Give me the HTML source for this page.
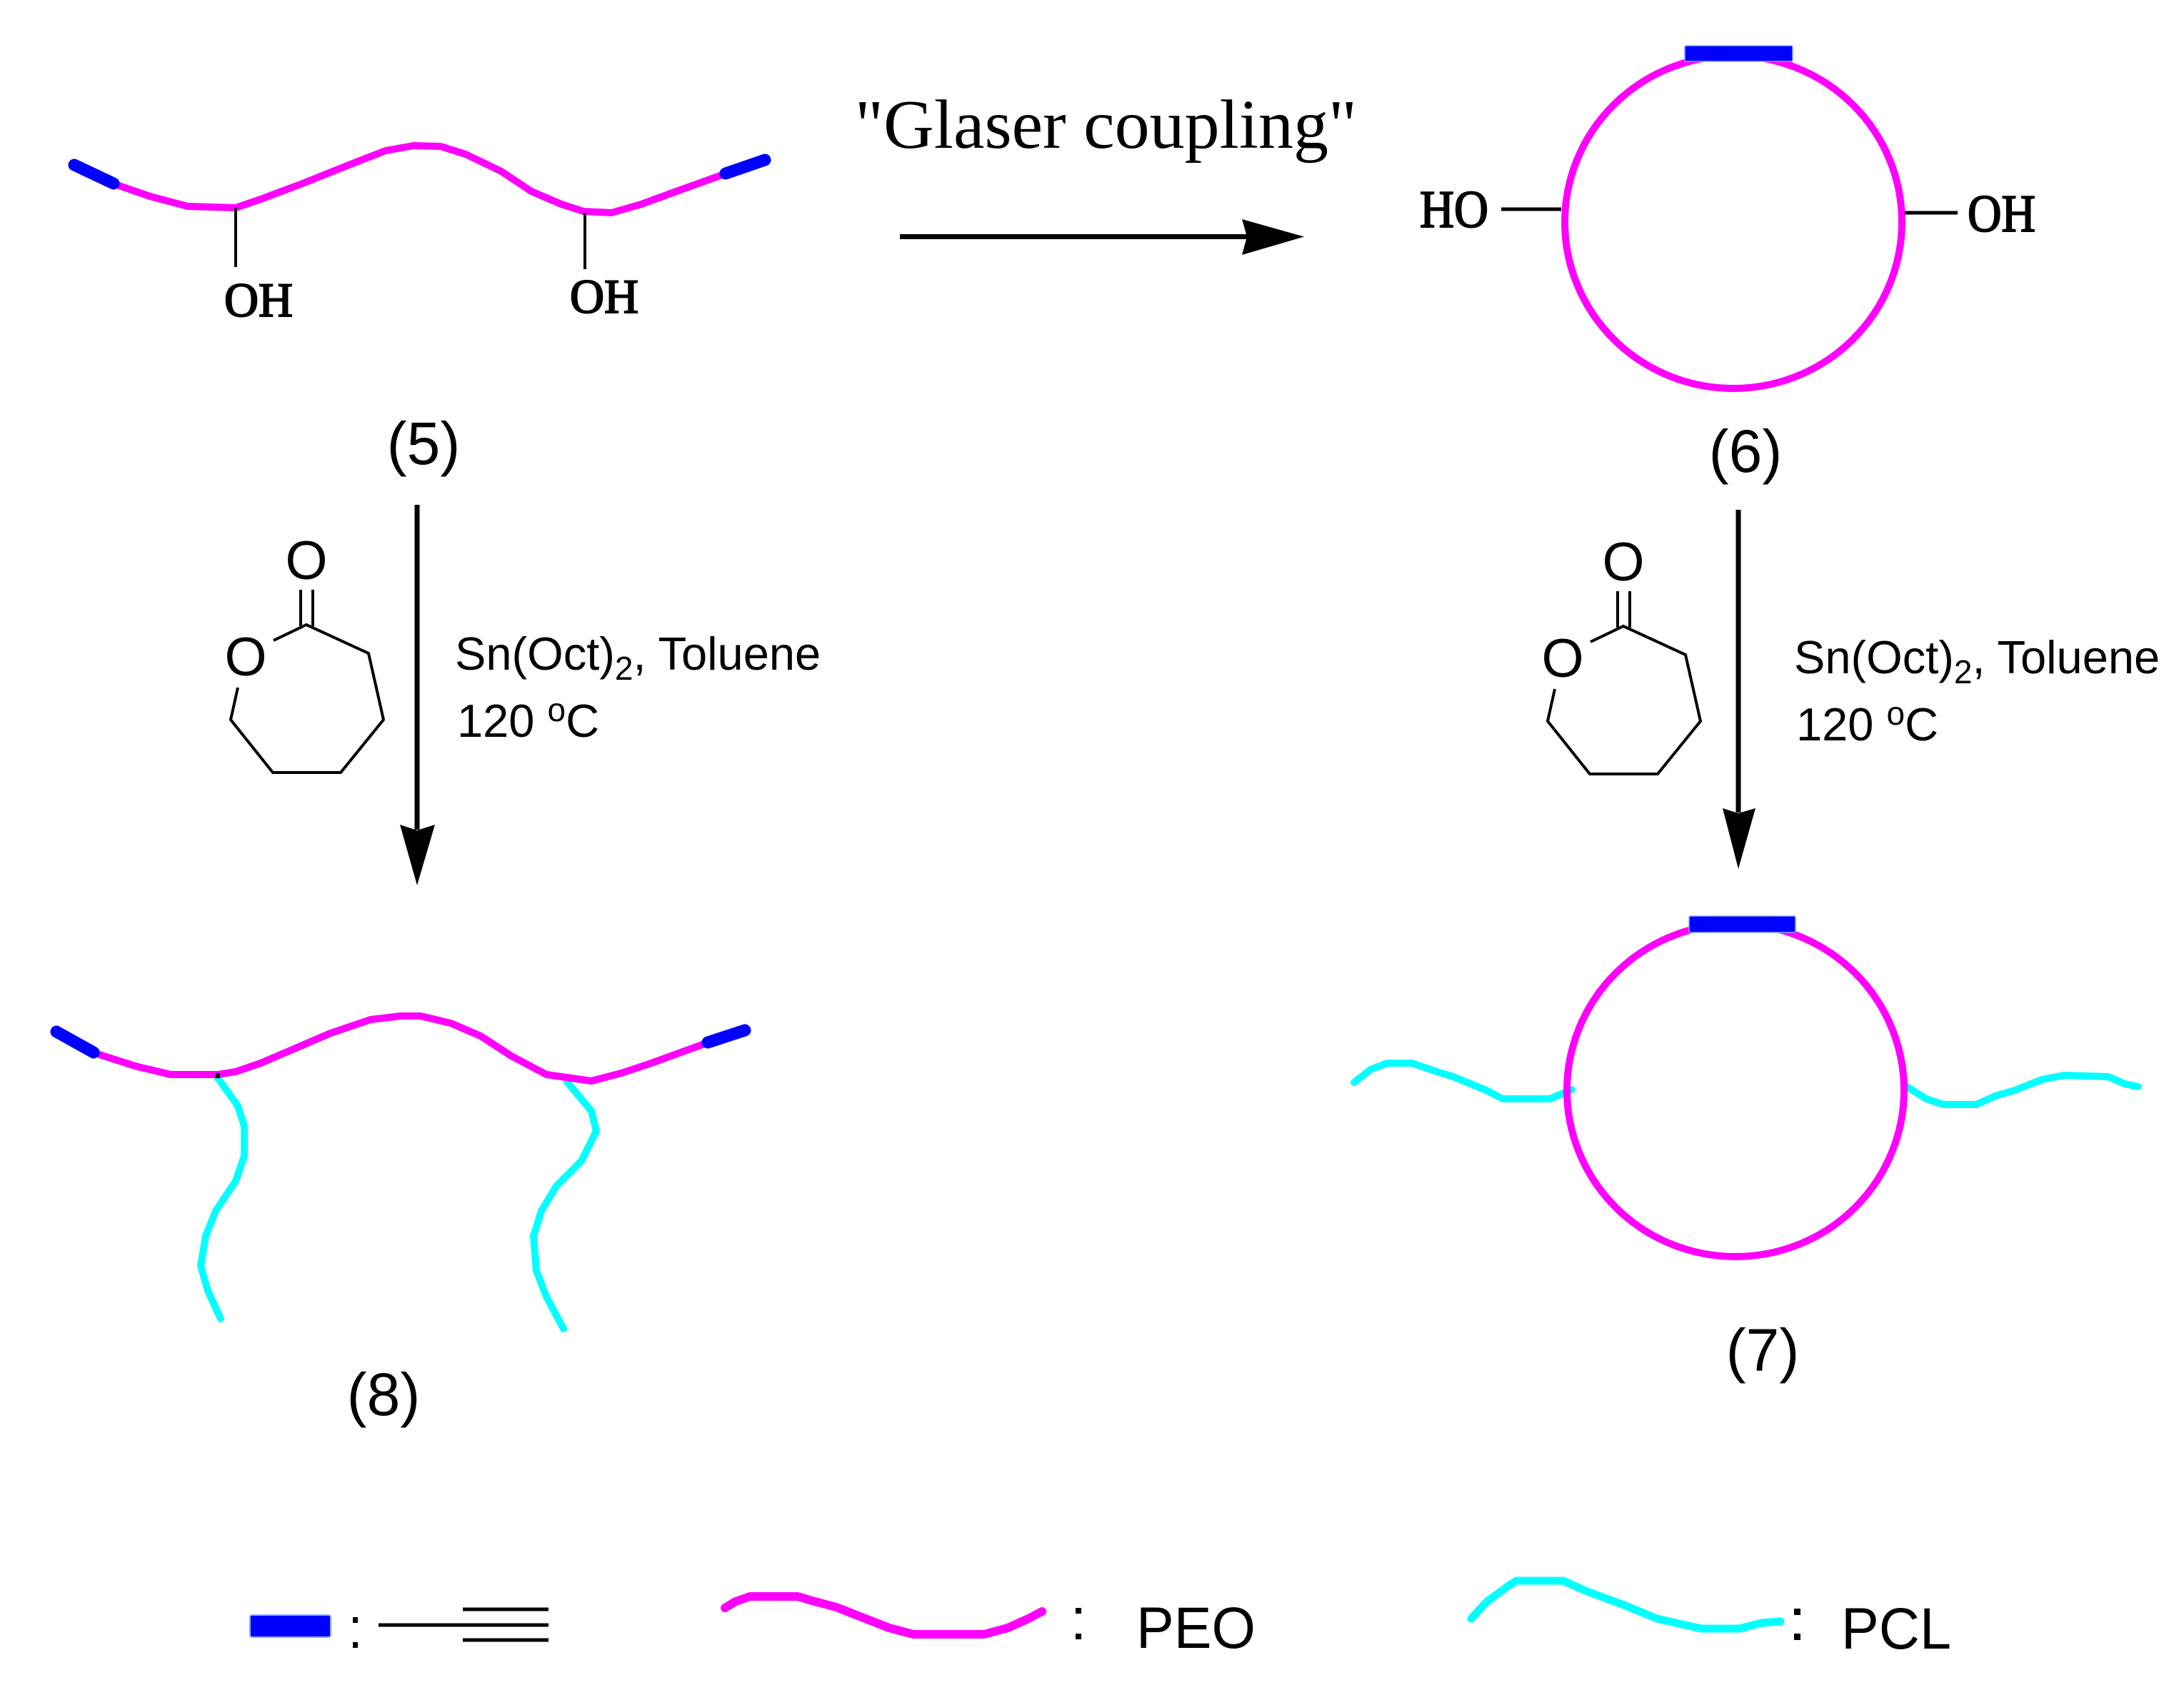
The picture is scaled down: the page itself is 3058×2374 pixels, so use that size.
<!DOCTYPE html>
<html>
<head>
<meta charset="utf-8">
<style>
  html,body{margin:0;padding:0;background:#fff;}
  svg{display:block;}
  .ar{font-family:"Liberation Sans", Arial, sans-serif;fill:#000;}
  .sf{font-family:"Liberation Serif", "Times New Roman", serif;fill:#000;}
</style>
</head>
<body>
<svg width="3058" height="2374" viewBox="0 0 3058 2374" xmlns="http://www.w3.org/2000/svg">
  <rect width="3058" height="2374" fill="#fff"/>

  <!-- ===== Structure (5) ===== -->
  <polyline fill="none" stroke="#ff00ff" stroke-width="10" stroke-linejoin="round" stroke-linecap="round"
    points="161,258 210,275 263,289 330,291 365,279 421,258 491,230 540,211 579,204 617,205 652,216 702,240 744,268 786,286 817,296 856,298 898,286 947,268 1014,244"/>
  <line x1="104" y1="231" x2="159" y2="257" stroke="#0000ff" stroke-width="17" stroke-linecap="round"/>
  <line x1="1016" y1="243" x2="1071" y2="224" stroke="#0000ff" stroke-width="17" stroke-linecap="round"/>
  <line x1="330" y1="291" x2="330" y2="374" stroke="#000" stroke-width="4"/>
  <line x1="819" y1="298" x2="819" y2="377" stroke="#000" stroke-width="4"/>
  <text class="sf" x="314" y="443" font-size="68" textLength="96" lengthAdjust="spacingAndGlyphs" stroke="#000" stroke-width="2">OH</text>
  <text class="sf" x="798" y="438" font-size="68" textLength="96" lengthAdjust="spacingAndGlyphs" stroke="#000" stroke-width="2">OH</text>
  <text class="ar" x="593" y="650" font-size="84" text-anchor="middle">(5)</text>

  <!-- ===== Glaser coupling arrow ===== -->
  <text class="sf" x="1197" y="207" font-size="98" textLength="703" lengthAdjust="spacingAndGlyphs">"Glaser coupling"</text>
  <line x1="1260" y1="331.5" x2="1746" y2="331.5" stroke="#000" stroke-width="7"/>
  <polygon points="1826,331.5 1739,307 1746,331.5 1739,357" fill="#000"/>

  <!-- ===== Structure (6) ===== -->
  <ellipse cx="2427" cy="311" rx="236" ry="233" fill="none" stroke="#ff00ff" stroke-width="10"/>
  <rect x="2359" y="64" width="151" height="22" rx="2" fill="#0000ff" stroke="#88aaff" stroke-width="1.5"/>
  <line x1="2102" y1="293" x2="2186" y2="293" stroke="#000" stroke-width="5"/>
  <line x1="2667" y1="298" x2="2741" y2="298" stroke="#000" stroke-width="5"/>
  <text class="sf" x="1988" y="318" font-size="74" textLength="96" lengthAdjust="spacingAndGlyphs" stroke="#000" stroke-width="2">HO</text>
  <text class="sf" x="2755" y="324" font-size="74" textLength="95" lengthAdjust="spacingAndGlyphs" stroke="#000" stroke-width="2">OH</text>
  <text class="ar" x="2444" y="661" font-size="84" text-anchor="middle">(6)</text>

  <!-- ===== Left vertical arrow + conditions ===== -->
  <line x1="584" y1="707" x2="584" y2="1162" stroke="#000" stroke-width="7"/>
  <polygon points="584,1240 560,1155 584,1163 609,1155" fill="#000"/>

  <g fill="none" stroke="#000" stroke-width="4" stroke-linejoin="miter">
    <line x1="421" y1="826" x2="421" y2="877"/>
    <line x1="438" y1="826" x2="438" y2="877"/>
    <polyline points="383,897 429,875 516,915 537,1008 477,1082 382,1082 323,1008 333,963"/>
  </g>
  <text class="ar" x="429" y="811" font-size="76" text-anchor="middle">O</text>
  <text class="ar" x="344" y="946" font-size="76" text-anchor="middle">O</text>

  <text class="ar" x="637" y="938" font-size="65">Sn(Oct)<tspan font-size="46" dy="14">2</tspan><tspan dy="-14">, Toluene</tspan></text>
  <text class="ar" x="640" y="1032" font-size="65">120 <tspan font-size="46" dy="-22">o</tspan><tspan dy="22">C</tspan></text>

  <!-- ===== Right vertical arrow + conditions ===== -->
  <line x1="2434" y1="714" x2="2434" y2="1138" stroke="#000" stroke-width="7"/>
  <polygon points="2434,1217 2412,1132 2434,1139 2458,1132" fill="#000"/>

  <g fill="none" stroke="#000" stroke-width="4" stroke-linejoin="miter" transform="translate(1844,2)">
    <line x1="421" y1="826" x2="421" y2="877"/>
    <line x1="438" y1="826" x2="438" y2="877"/>
    <polyline points="383,897 429,875 516,915 537,1008 477,1082 382,1082 323,1008 333,963"/>
  </g>
  <text class="ar" x="2273" y="813" font-size="76" text-anchor="middle">O</text>
  <text class="ar" x="2188" y="948" font-size="76" text-anchor="middle">O</text>

  <text class="ar" x="2512" y="943" font-size="65">Sn(Oct)<tspan font-size="46" dy="14">2</tspan><tspan dy="-14">, Toluene</tspan></text>
  <text class="ar" x="2515" y="1037" font-size="65">120 <tspan font-size="46" dy="-22">o</tspan><tspan dy="22">C</tspan></text>

  <!-- ===== Structure (8) ===== -->
  <polyline fill="none" stroke="#00ffff" stroke-width="10" stroke-linejoin="round" stroke-linecap="round"
    points="305,1510 333,1549 342,1577 342,1619 330,1654 302,1696 288,1731 281,1773 291,1808 309,1847"/>
  <polyline fill="none" stroke="#00ffff" stroke-width="10" stroke-linejoin="round" stroke-linecap="round"
    points="793,1514 828,1556 835,1584 814,1626 779,1661 758,1696 747,1731 751,1780 765,1816 789,1861"/>
  <polyline fill="none" stroke="#ff00ff" stroke-width="10" stroke-linejoin="round" stroke-linecap="round"
    points="133,1475 189,1493 239,1505 305,1505 330,1501 365,1489 421,1465 463,1447 519,1428 561,1423 589,1423 631,1433 673,1451 716,1479 765,1505 828,1514 870,1503 912,1489 989,1461"/>
  <line x1="79" y1="1445" x2="131" y2="1474" stroke="#0000ff" stroke-width="17" stroke-linecap="round"/>
  <line x1="991" y1="1460" x2="1043" y2="1443" stroke="#0000ff" stroke-width="17" stroke-linecap="round"/>
  <rect x="302" y="1503" width="6" height="7" fill="#000"/>
  <text class="ar" x="537" y="1982" font-size="84" text-anchor="middle">(8)</text>

  <!-- ===== Structure (7) ===== -->
  <polyline fill="none" stroke="#00ffff" stroke-width="10" stroke-linejoin="round" stroke-linecap="round"
    points="1896,1516 1919,1498 1942,1489 1977,1489 2012,1501 2035,1508 2081,1527 2104,1539 2170,1539 2201,1526"/>
  <polyline fill="none" stroke="#00ffff" stroke-width="10" stroke-linejoin="round" stroke-linecap="round"
    points="2670,1522 2697,1539 2721,1547 2767,1547 2794,1535 2821,1527 2859,1512 2890,1506 2952,1508 2975,1518 2994,1522"/>
  <ellipse cx="2430" cy="1527" rx="236" ry="233" fill="none" stroke="#ff00ff" stroke-width="10"/>
  <rect x="2365" y="1283" width="149" height="23" rx="2" fill="#0000ff" stroke="#88aaff" stroke-width="1.5"/>
  <text class="ar" x="2468" y="1920" font-size="84" text-anchor="middle">(7)</text>

  <!-- ===== Legend ===== -->
  <rect x="350" y="2262" width="113" height="31" rx="3" fill="#0000ff" stroke="#88aaff" stroke-width="2"/>
  <rect x="494" y="2265" width="7" height="8" fill="#000"/>
  <rect x="494" y="2300" width="7" height="8" fill="#000"/>
  <line x1="530" y1="2276" x2="768" y2="2276" stroke="#000" stroke-width="5"/>
  <line x1="648" y1="2254" x2="768" y2="2254" stroke="#000" stroke-width="5"/>
  <line x1="648" y1="2297" x2="768" y2="2297" stroke="#000" stroke-width="5"/>

  <polyline fill="none" stroke="#ff00ff" stroke-width="12" stroke-linejoin="round" stroke-linecap="round"
    points="1015,2252 1030,2243 1050,2236 1117,2236 1137,2242 1171,2251 1204,2264 1245,2280 1279,2289 1378,2289 1411,2280 1440,2267 1459,2257"/>
  <rect x="1506" y="2252" width="8" height="8" fill="#000"/>
  <rect x="1506" y="2288" width="8" height="8" fill="#000"/>
  <text class="ar" x="1591" y="2308" font-size="82" textLength="167" lengthAdjust="spacingAndGlyphs">PEO</text>

  <polyline fill="none" stroke="#00ffff" stroke-width="11" stroke-linejoin="round" stroke-linecap="round"
    points="2060,2267 2081,2244 2112,2221 2123,2214 2189,2214 2220,2228 2274,2248 2320,2267 2382,2281 2436,2281 2466,2273 2493,2271"/>
  <rect x="2512" y="2253" width="9" height="9" fill="#000"/>
  <rect x="2512" y="2288" width="9" height="9" fill="#000"/>
  <text class="ar" x="2578" y="2309" font-size="82" textLength="154" lengthAdjust="spacingAndGlyphs">PCL</text>
</svg>
</body>
</html>
